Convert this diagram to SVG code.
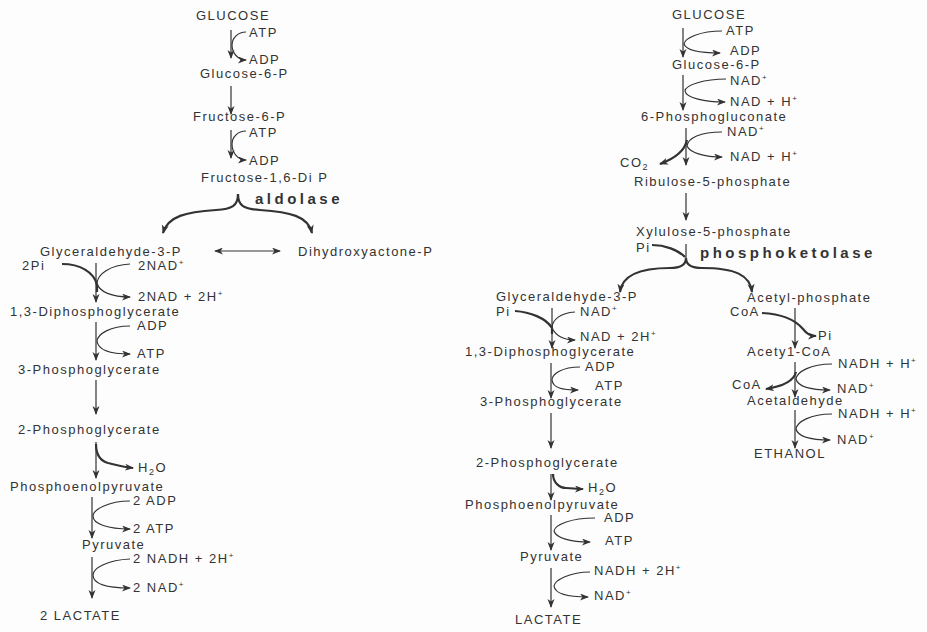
<svg xmlns="http://www.w3.org/2000/svg" width="927" height="632" viewBox="0 0 927 632">
  <defs>
    <style>
      .t { font-family: "Liberation Sans", Arial, sans-serif; font-size: 13px; letter-spacing: 1.5px; fill: #333; }
      .e { font-family: "Liberation Sans", Arial, sans-serif; font-size: 15px; font-weight: bold; letter-spacing: 3.5px; fill: #333; }
      .sup { font-size: 8px; }
      .sub { font-size: 9px; }
      .ln { fill: none; stroke: #333; stroke-width: 1.2; }
      .thk { fill: none; stroke: #333; stroke-width: 2.2; }
      .arr { marker-end: url(#ah); }
    </style>
    <marker id="ah" markerUnits="userSpaceOnUse" markerWidth="10" markerHeight="8" refX="8" refY="3.5" orient="auto">
      <path d="M0,0 L9,3.5 L0,7 L2.5,3.5 z" fill="#333"/>
    </marker>
    <marker id="ahs" markerUnits="userSpaceOnUse" markerWidth="10" markerHeight="8" refX="1" refY="3.5" orient="auto">
      <path d="M9,0 L0,3.5 L9,7 L6.5,3.5 z" fill="#333"/>
    </marker>
  </defs>
  <rect width="927" height="632" fill="#fdfdfd"/>

  <!-- connectors -->
  <g id="connectors">
    <!-- glycolysis (left) -->
    <path class="ln arr" d="M231,30 V58"/>
    <path class="ln arr" d="M246,32 C238,32 232,38 232,45 C232,53 238,60 246,60"/>
    <path class="ln arr" d="M231,86 V114"/>
    <path class="ln arr" d="M231,130 V158"/>
    <path class="ln arr" d="M246,131 C238,131 232,137 232,144 C232,153 238,160 246,160"/>
    <path class="thk arr" d="M238,194 C238,206 232,209 216,210 C186,212 168,216 163,233"/>
    <path class="thk arr" d="M238,194 C238,206 244,209 260,210 C290,212 308,216 312,233"/>
    <path class="ln" d="M215,251 H280" stroke-width="1.5" marker-start="url(#ahs)" marker-end="url(#ah)"/>
    <path class="ln arr" d="M96,263 V302"/>
    <path class="thk" d="M62,264 C80,264 94,272 97,285 L97,292"/>
    <path class="ln arr" d="M130,264 C110,265 98,274 97,283 C99,292 112,297 130,297"/>
    <path class="ln arr" d="M96,322 V360"/>
    <path class="ln arr" d="M130,326 C110,326 98,334 97,341 C98,350 110,354 130,354"/>
    <path class="ln arr" d="M96,380 V414"/>
    <path class="ln arr" d="M96,442 V478"/>
    <path class="thk arr" d="M96,444 C96,456 101,461 108,463 C116,465 123,467 133,468"/>
    <path class="ln arr" d="M92,497 V538"/>
    <path class="ln arr" d="M130,501 C108,501 93,510 93,516 C93,524 108,529 130,529"/>
    <path class="ln arr" d="M92,557 V598"/>
    <path class="ln arr" d="M130,559 C108,560 93,568 93,575 C93,584 108,588 130,588"/>

    <!-- phosphoketolase pathway (right) -->
    <path class="ln arr" d="M683,28 V57"/>
    <path class="ln arr" d="M722,31 C700,31 685,38 684,44 C686,50 700,53 720,53"/>
    <path class="ln arr" d="M683,75 V110"/>
    <path class="ln arr" d="M726,79 C705,79 685,85 685,91 C686,98 705,102 725,102"/>
    <path class="ln arr" d="M686,128 V165"/>
    <path class="ln arr" d="M722,132 C700,132 688,138 687,146 C690,153 705,157 722,157"/>
    <path class="thk arr" d="M687,140 C685,150 676,158 660,164"/>
    <path class="ln arr" d="M686,193 V220"/>
    <path class="thk" d="M652,245 C665,245 678,250 685,257"/>
    <path class="ln" d="M686,244 V258"/>
    <path class="thk arr" d="M686,258 C686,265 680,268 670,268 C640,268 622,275 620,292"/>
    <path class="thk arr" d="M686,258 C686,265 692,268 702,268 C735,268 750,275 752,292"/>
    <path class="ln arr" d="M552,308 V348"/>
    <path class="thk" d="M515,311 C530,312 546,318 552,328 L552,334"/>
    <path class="ln arr" d="M575,312 C560,313 552,320 552,328 C556,336 565,340 575,340"/>
    <path class="ln arr" d="M551,363 V398"/>
    <path class="ln arr" d="M580,367 C562,367 552,374 552,380 C553,388 562,390 578,390"/>
    <path class="ln arr" d="M551,413 V448"/>
    <path class="ln arr" d="M551,474 V500"/>
    <path class="thk arr" d="M553,474 C553,483 560,488 566,488 C572,488 576,489 583,489"/>
    <path class="ln arr" d="M551,515 V550"/>
    <path class="ln arr" d="M595,518 C570,518 555,525 554,531 C556,538 570,542 590,542"/>
    <path class="ln arr" d="M551,568 V607"/>
    <path class="ln arr" d="M590,572 C570,572 555,580 554,586 C555,594 570,597 588,597"/>
    <path class="ln arr" d="M795,308 V348"/>
    <path class="thk arr" d="M762,313 C785,314 797,322 803,329 C807,334 810,336 816,336"/>
    <path class="ln arr" d="M795,362 V397"/>
    <path class="ln arr" d="M832,364 C810,364 797,372 796,379 C798,387 812,390 830,390"/>
    <path class="thk arr" d="M796,372 C794,380 785,386 766,389"/>
    <path class="ln arr" d="M795,410 V448"/>
    <path class="ln arr" d="M832,414 C810,414 797,422 796,429 C798,437 812,440 830,440"/>
  </g>

  <!-- glycolysis to lactate -->
  <g id="glucose-l"><text class="t" x="196" y="20">GLUCOSE</text></g>
  <g id="atp-l1"><text class="t" x="249" y="37">ATP</text></g>
  <g id="adp-l1"><text class="t" x="249" y="64">ADP</text></g>
  <g id="g6p-l"><text class="t" x="200" y="78">Glucose-6-P</text></g>
  <g id="f6p"><text class="t" x="193" y="121">Fructose-6-P</text></g>
  <g id="atp-l2"><text class="t" x="249" y="137">ATP</text></g>
  <g id="adp-l2"><text class="t" x="249" y="165">ADP</text></g>
  <g id="fdp"><text class="t" x="201" y="182">Fructose-1,6-Di P</text></g>
  <g id="aldolase"><text class="e" x="255" y="204">aldolase</text></g>
  <g id="gap-l"><text class="t" x="40" y="256">Glyceraldehyde-3-P</text></g>
  <g id="dhap"><text class="t" x="298" y="256">Dihydroxyactone-P</text></g>
  <g id="pi-l"><text class="t" x="22" y="270">2Pi</text></g>
  <g id="nad-l1"><text class="t" x="138" y="270">2NAD<tspan class="sup" dy="-5">+</tspan></text></g>
  <g id="nadh-l1"><text class="t" x="138" y="301">2NAD + 2H<tspan class="sup" dy="-5">+</tspan></text></g>
  <g id="bpg-l"><text class="t" x="10" y="316">1,3-Diphosphoglycerate</text></g>
  <g id="adp-l3"><text class="t" x="137" y="330">ADP</text></g>
  <g id="atp-l3"><text class="t" x="137" y="358">ATP</text></g>
  <g id="pg3-l"><text class="t" x="18" y="374">3-Phosphoglycerate</text></g>
  <g id="pg2-l"><text class="t" x="18" y="434">2-Phosphoglycerate</text></g>
  <g id="h2o-l"><text class="t" x="138" y="472">H<tspan class="sub" dy="3">2</tspan><tspan dy="-3">O</tspan></text></g>
  <g id="pep-l"><text class="t" x="10" y="491">Phosphoenolpyruvate</text></g>
  <g id="adp-l4"><text class="t" x="133" y="505">2 ADP</text></g>
  <g id="atp-l4"><text class="t" x="133" y="533">2 ATP</text></g>
  <g id="pyr-l"><text class="t" x="82" y="549">Pyruvate</text></g>
  <g id="nadh-l2"><text class="t" x="133" y="563">2 NADH + 2H<tspan class="sup" dy="-5">+</tspan></text></g>
  <g id="nad-l2"><text class="t" x="133" y="592">2 NAD<tspan class="sup" dy="-5">+</tspan></text></g>
  <g id="lactate-l"><text class="t" x="40" y="620">2 LACTATE</text></g>

  <!-- phosphoketolase pathway -->
  <g id="glucose-r"><text class="t" x="672" y="19">GLUCOSE</text></g>
  <g id="atp-r1"><text class="t" x="726" y="35">ATP</text></g>
  <g id="adp-r1"><text class="t" x="730" y="55">ADP</text></g>
  <g id="g6p-r"><text class="t" x="672" y="69">Glucose-6-P</text></g>
  <g id="nad-r1"><text class="t" x="730" y="85">NAD<tspan class="sup" dy="-5">+</tspan></text></g>
  <g id="nadh-r1"><text class="t" x="730" y="106">NAD + H<tspan class="sup" dy="-5">+</tspan></text></g>
  <g id="pgluc"><text class="t" x="641" y="121">6-Phosphogluconate</text></g>
  <g id="nad-r2"><text class="t" x="727" y="136">NAD<tspan class="sup" dy="-5">+</tspan></text></g>
  <g id="nadh-r2"><text class="t" x="730" y="161">NAD + H<tspan class="sup" dy="-5">+</tspan></text></g>
  <g id="co2"><text class="t" x="620" y="167">CO<tspan class="sub" dy="3">2</tspan></text></g>
  <g id="ru5p"><text class="t" x="634" y="186">Ribulose-5-phosphate</text></g>
  <g id="xu5p"><text class="t" x="636" y="236">Xylulose-5-phosphate</text></g>
  <g id="pi-r1"><text class="t" x="636" y="252">Pi</text></g>
  <g id="phosphoketolase"><text class="e" x="700" y="258">phosphoketolase</text></g>
  <g id="gap-r"><text class="t" x="496" y="301">Glyceraldehyde-3-P</text></g>
  <g id="pi-r2"><text class="t" x="496" y="316">Pi</text></g>
  <g id="nad-r3"><text class="t" x="580" y="316">NAD<tspan class="sup" dy="-5">+</tspan></text></g>
  <g id="nadh-r3"><text class="t" x="580" y="341">NAD + 2H<tspan class="sup" dy="-5">+</tspan></text></g>
  <g id="bpg-r"><text class="t" x="465" y="356">1,3-Diphosphoglycerate</text></g>
  <g id="adp-r2"><text class="t" x="585" y="371">ADP</text></g>
  <g id="atp-r2"><text class="t" x="595" y="390">ATP</text></g>
  <g id="pg3-r"><text class="t" x="480" y="406">3-Phosphoglycerate</text></g>
  <g id="pg2-r"><text class="t" x="476" y="467">2-Phosphoglycerate</text></g>
  <g id="h2o-r"><text class="t" x="588" y="492">H<tspan class="sub" dy="3">2</tspan><tspan dy="-3">O</tspan></text></g>
  <g id="pep-r"><text class="t" x="465" y="509">Phosphoenolpyruvate</text></g>
  <g id="adp-r3"><text class="t" x="604" y="522">ADP</text></g>
  <g id="atp-r3"><text class="t" x="605" y="545">ATP</text></g>
  <g id="pyr-r"><text class="t" x="520" y="561">Pyruvate</text></g>
  <g id="nadh-r4"><text class="t" x="594" y="575">NADH + 2H<tspan class="sup" dy="-5">+</tspan></text></g>
  <g id="nad-r4"><text class="t" x="594" y="600">NAD<tspan class="sup" dy="-5">+</tspan></text></g>
  <g id="lactate-r"><text class="t" x="515" y="624">LACTATE</text></g>
  <g id="acp"><text class="t" x="747" y="302">Acetyl-phosphate</text></g>
  <g id="coa-1"><text class="t" x="730" y="316">CoA</text></g>
  <g id="pi-r3"><text class="t" x="818" y="340">Pi</text></g>
  <g id="accoa"><text class="t" x="747" y="356">Acety1-CoA</text></g>
  <g id="nadh-r5"><text class="t" x="838" y="368">NADH + H<tspan class="sup" dy="-5">+</tspan></text></g>
  <g id="coa-2"><text class="t" x="732" y="389">CoA</text></g>
  <g id="nad-r5"><text class="t" x="837" y="393">NAD<tspan class="sup" dy="-5">+</tspan></text></g>
  <g id="acald"><text class="t" x="747" y="405">Acetaldehyde</text></g>
  <g id="nadh-r6"><text class="t" x="838" y="418">NADH + H<tspan class="sup" dy="-5">+</tspan></text></g>
  <g id="nad-r6"><text class="t" x="837" y="444">NAD<tspan class="sup" dy="-5">+</tspan></text></g>
  <g id="ethanol"><text class="t" x="754" y="458">ETHANOL</text></g>
</svg>
